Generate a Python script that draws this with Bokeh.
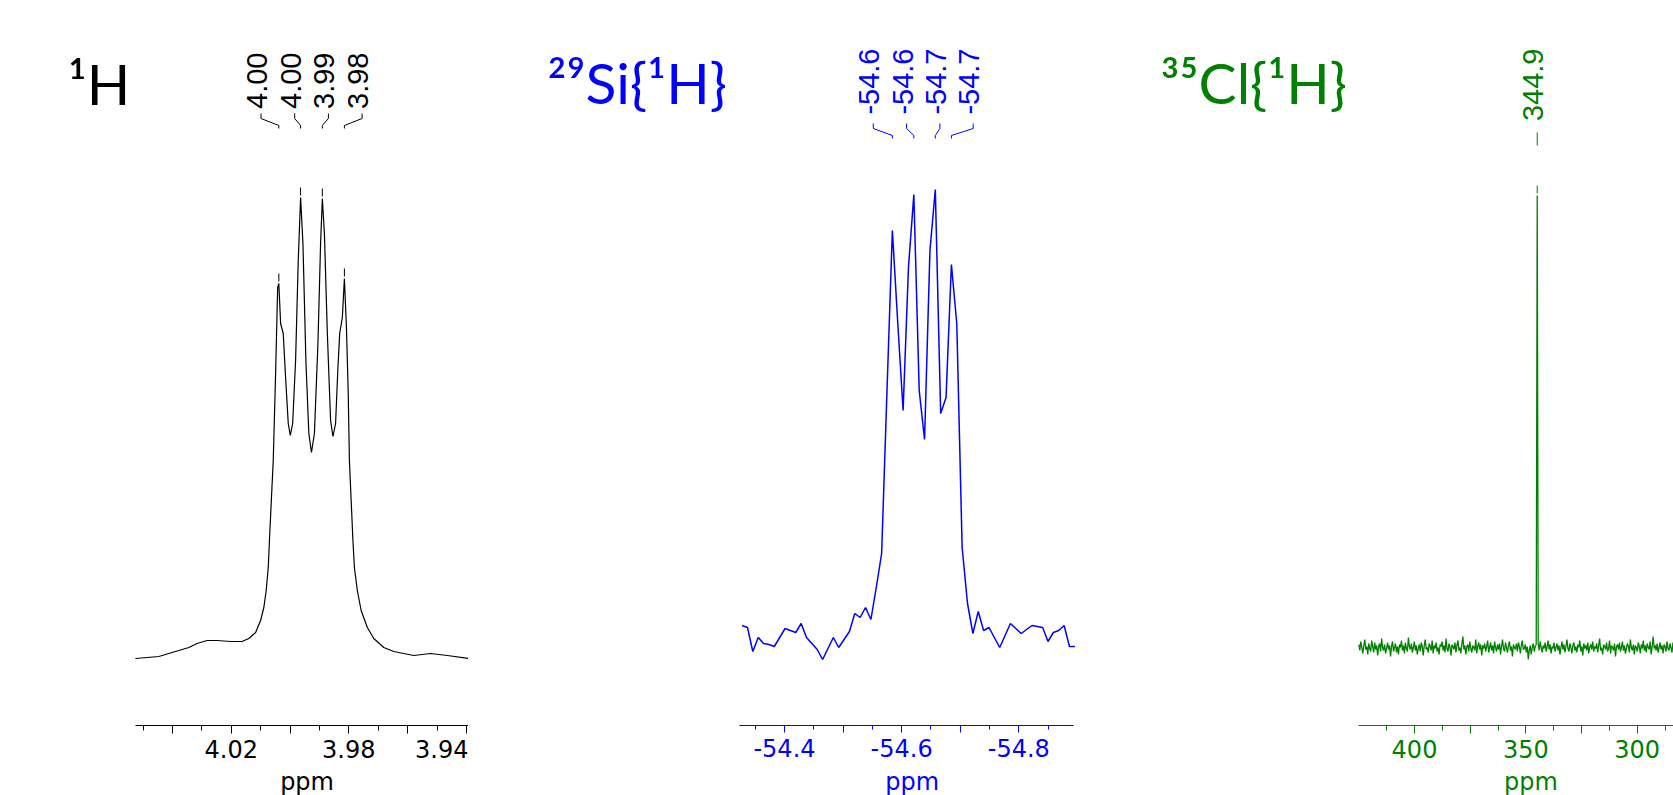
import numpy as np
from bokeh.plotting import figure
from bokeh.layouts import row, column
from bokeh.models import Range1d, FixedTicker, PrintfTickFormatter
from bokeh.core.properties import value
from bokeh.embed import file_html
from bokeh.resources import INLINE

# ---------------- data ----------------
# 1H spectrum (ppm, intensity a.u.)
h_ppm = [4.0526, 4.0446, 4.0401, 4.0344, 4.0316, 4.0282, 4.0248, 4.0202, 4.0163, 4.0140,
         4.0117, 4.0100, 4.0089, 4.0081, 4.0074, 4.0070, 4.0057, 4.0049, 4.0042, 4.0038,
         4.0032, 4.0023, 4.0015, 4.0006, 3.9999, 3.9991, 3.9981, 3.9972, 3.9964, 3.9956,
         3.9946, 3.9936, 3.9927, 3.9917, 3.9905, 3.9896, 3.9890, 3.9883, 3.9873, 3.9862,
         3.9854, 3.9845, 3.9837, 3.9831, 3.9822, 3.9815, 3.9808, 3.9802, 3.9798, 3.9786,
         3.9781, 3.9771, 3.9758, 3.9737, 3.9715, 3.9681, 3.9647, 3.9579, 3.9522, 3.9465,
         3.9393]
h_int = [0, 2, 6, 11, 15, 18, 18, 17, 17, 20,
         26, 38, 51, 68, 91, 118, 198, 285, 371, 375,
         335, 325, 281, 235, 223, 235, 298, 398, 461, 415,
         298, 225, 206, 225, 315, 415, 460, 425, 325, 238,
         222, 235, 291, 325, 341, 380, 331, 265, 198, 118,
         91, 68, 48, 31, 20, 11, 7, 3, 5, 3,
         0]
h_peak_ppm = [4.0038, 3.9964, 3.9890, 3.9815]
h_peak_int = [375, 461, 460, 380]
h_peak_labels = ["4.00", "4.00", "3.99", "3.98"]
h_ticks = [4.04, 4.02, 4.00, 3.98, 3.96, 3.94]
h_minor = [4.05, 4.03, 4.01, 3.99, 3.97, 3.95]
h_unlabeled = [4.04, 4.00, 3.96]

# 29Si{1H} spectrum: first point, digital resolution, intensities
si_first_ppm = -54.3276
si_step_ppm = -0.009163
si_int = [15, 13, -11, 3, -3, -4, -6, 3, 12, 10,
          8, 17, 3, -3, -9, -19, -8, 3, -7, 1,
          9, 27, 23, 33, 21, 53, 87, 250, 410, 318,
          230, 373, 446, 250, 201, 390, 451, 227, 243, 376,
          317, 93, 37, 7, 29, 10, 13, 3, -7, 5,
          17, 12, 7, 11, 15, 14, 13, -1, 8, 10,
          15, -6, -6]
si_peak_ppm = [-54.5842, -54.6208, -54.6575, -54.6850]
si_peak_labels = ["-54.6", "-54.6", "-54.7", "-54.7"]
si_ticks = [-54.4, -54.5, -54.6, -54.7, -54.8]
si_minor = [-54.35, -54.45, -54.55, -54.65, -54.75, -54.85]
si_unlabeled = [-54.5, -54.7]

# 35Cl{1H} spectrum
cl_first_ppm = 425.0
cl_step_ppm = -0.445
cl_int = [4, -2, 7, 1, -5, 3, 9, -1, 2, -6, 5, 0, -3, 8, 2, -4, 6, -1, 3, -7,
          2, 5, -3, 10, 1, -2, 4, -5, 0, 6, -1, 3, -8, 2, 7, -3, 1, 5, -4, 2,
          -6, 4, 1, 8, -2, 3, -5, 6, 0, -3, 11, 2, -1, 5, -4, 1, 7, -2, 3, -6,
          0, 4, -3, 6, 2, -7, 3, 9, -1, 1, -4, 5, 2, -2, 8, -5, 3, 0, 6, -3,
          1, -6, 4, 2, 7, -2, 3, -4, 10, 0, -3, 5, 1, -7, 4, 2, -1, 6, -4, 3,
          8, -2, 1, -5, 5, 12, -1, 3, -6, 2, 4, -3, 7, 0, -4, 3, 1, -2, 9, -5,
          2, 6, -1, 4, -7, 3, 0, 5, -3, 2, 8, -4, 1, 6, -2, 3, -5, 7, 1, -3,
          4, -1, 5, -6, 2, 9, 0, -3, 6, 1, -4, 3, 7, -2, 2, -8, 4, 1, -1, 5,
          -3, 6, 2, -5, 3, 8, -1, 0, 4, -4, 2, -11, -2, 3, -6, 1, 5, -3, 2, 4,
          453, 5, -2, 7, 1, -4, 3, 0, 6, -3, 2, 8, -1, 4, -5, 2, 0, 6, -3, 1,
          5, -2, 3, -6, 1, 7, -1, 4, -4, 2, 9, 0, -3, 5, 1, -5, 3, 6, -2, 2,
          -4, 4, 1, 8, -3, 2, -7, 5, 0, 3, -2, 6, -5, 1, 4, -1, 7, -3, 2, 0,
          5, -4, 3, 10, -2, 1, -6, 4, 2, -1, 6, -3, 0, 8, -5, 3, 1, -2, 5, -8,
          2, 4, -1, 6, -3, 1, 7, -2, 3, -5, 0, 5, 2, -4, 9, 1, -2, 4, -6, 3,
          1, -3, 6, 2, -5, 4, 0, 8, -2, 3, -4, 5, 1, -1, 7, -6, 2, 12, 0, 3,
          -2, 5, -4, 1, 6, -1, 3, -5, 4, 2, -3, 7, 0, -2, 5, 1, -4, 6, -1, 2]
cl_peak_ppm = [344.9]
cl_peak_int = [453]
cl_peak_labels = ["344.9"]
cl_ticks = [400, 375, 350, 325, 300]
cl_minor = [412.5, 387.5, 362.5, 337.5, 312.5, 287.5]
cl_unlabeled = [375, 325]

titles = ["\u00b9H", "\u00b2\u2079Si{\u00b9H}", "\u00b3\u2075Cl{\u00b9H}"]
axis_title = "ppm"

BLACK, BLUE, GREEN = "#000000", "#0000ff", "#008000"
LABEL_FONT = "Liberation Sans"
TICK_FONT = "DejaVu Sans"
TITLE_FONT = "Lato"
TOP_H, STRIP_H = 767, 28


def make_panel(width, xr, yr):
    p = figure(width=width, height=TOP_H, x_range=xr, y_range=Range1d(*yr),
               output_backend="svg", toolbar_location=None, y_axis_location=None,
               min_border_left=0, min_border_right=0, min_border_top=0, min_border_bottom=42,
               outline_line_color=None)
    p.xgrid.visible = False
    p.ygrid.visible = False
    return p


def make_axis_title(width, xr, x, color):
    # narrow strip under each panel carrying the axis title "ppm"
    q = figure(width=width, height=STRIP_H, x_range=xr, y_range=Range1d(-STRIP_H, 0),
               output_backend="svg", toolbar_location=None, x_axis_location=None,
               y_axis_location=None, min_border=0, outline_line_color=None)
    q.xgrid.visible = False
    q.ygrid.visible = False
    q.text(x=[x], y=[-STRIP_H / 2], text=[axis_title], text_align="center", text_baseline="middle",
           text_font=value(TICK_FONT), text_font_size="24px", text_color=color)
    return q


def style_axis(p, color, bounds, ticks, minor, unlabeled, fmt, tick_out, minor_out):
    ax = p.xaxis[0]
    ax.bounds = bounds
    ax.ticker = FixedTicker(ticks=ticks, minor_ticks=minor)
    ax.formatter = PrintfTickFormatter(format=fmt)
    ax.major_label_overrides = {t: "" for t in unlabeled}
    ax.axis_line_color = color
    ax.major_tick_line_color = color
    ax.minor_tick_line_color = color
    ax.major_tick_in = 0
    ax.minor_tick_in = 0
    ax.major_tick_out = tick_out
    ax.minor_tick_out = minor_out
    ax.major_label_text_color = color
    ax.major_label_text_font = TICK_FONT
    ax.major_label_text_font_size = "24px"
    ax.major_label_standoff = 6


def peak_annotations(p, color, peaks, labels, spacing, y_levels, label_top, straight=False):
    centre = sum(peaks) / len(peaks)
    n = len(peaks)
    cols = [centre + ((n - 1) / 2 - i) * spacing for i in range(n)]
    y0, y1, y2, y3 = y_levels
    if straight:
        xs = [[pk, pk] for pk in peaks]
        ys = [[y0, y3] for _ in peaks]
    else:
        xs = [[pk, pk, c, c] for pk, c in zip(peaks, cols)]
        ys = [[y0, y1, y2, y3] for _ in peaks]
    p.multi_line(xs=xs, ys=ys, line_color=color, line_width=1)
    p.text(x=cols, y=[label_top] * n, text=labels, angle=np.pi / 2,
           text_align="right", text_baseline="middle", x_offset=-4,
           text_font=value(LABEL_FONT), text_font_size="29px", text_color=color)


def add_title(p, x, y, text, color):
    p.text(x=[x], y=[y], text=[text], text_font=value(TITLE_FONT),
           text_font_size="57px", text_baseline="alphabetic", text_align="left",
           text_color=color)


# ---------------- 1H panel ----------------
xr1 = Range1d(4.09847, 3.93929)
p1 = make_panel(468, xr1, (-67, 658))
p1.line(h_ppm, h_int, line_color=BLACK, line_width=1.2)
p1.segment(x0=h_peak_ppm, y0=[v + 2 for v in h_peak_int], x1=h_peak_ppm,
           y1=[v + 10 for v in h_peak_int], line_color=BLACK, line_width=1)
peak_annotations(p1, BLACK, h_peak_ppm, h_peak_labels, 0.011463, (530, 533, 540, 545), 606)
add_title(p1, 4.0756, 576, titles[0], BLACK)
style_axis(p1, BLACK, (3.9393, 4.0526), h_ticks, h_minor, h_unlabeled, "%.2f", 8, 5)
q1 = make_axis_title(468, xr1, 3.9942, BLACK)

# ---------------- 29Si panel ----------------
si_ppm = [si_first_ppm + si_step_ppm * i for i in range(len(si_int))]
xr2 = Range1d(-53.8605, -54.9395)
p2 = make_panel(632, xr2, (-85, 640))
p2.line(si_ppm, si_int, line_color=BLUE, line_width=1.5)
peak_annotations(p2, BLUE, si_peak_ppm, si_peak_labels, 0.05686, (502, 505, 512, 517), 592)
add_title(p2, -53.9954, 559, titles[1], BLUE)
style_axis(p2, BLUE, (-54.8935, -54.3236), si_ticks, si_minor, si_unlabeled, "%.1f", 7, 4)
q2 = make_axis_title(632, xr2, -54.618, BLUE)

# ---------------- 35Cl panel ----------------
cl_ppm = [cl_first_ppm + cl_step_ppm * i for i in range(len(cl_int))]
xr3 = Range1d(541.0, 283.7)
p3 = make_panel(573, xr3, (-77, 648))
p3.line(cl_ppm, cl_int, line_color=GREEN, line_width=1.3)
p3.segment(x0=cl_peak_ppm, y0=[v + 2 for v in cl_peak_int], x1=cl_peak_ppm,
           y1=[v + 10 for v in cl_peak_int], line_color=GREEN, line_width=1)
peak_annotations(p3, GREEN, cl_peak_ppm, cl_peak_labels, 0, (503, 503, 516, 516), 600, straight=True)
add_title(p3, 514.05, 567, titles[2], GREEN)
style_axis(p3, GREEN, (270, 425), cl_ticks, cl_minor, cl_unlabeled, "%d", 8, 5)
q3 = make_axis_title(573, xr3, 347.7, GREEN)

layout = column(row(p1, p2, p3, spacing=0), row(q1, q2, q3, spacing=0), spacing=0)
open("out.html", "w").write(file_html(layout, INLINE))
